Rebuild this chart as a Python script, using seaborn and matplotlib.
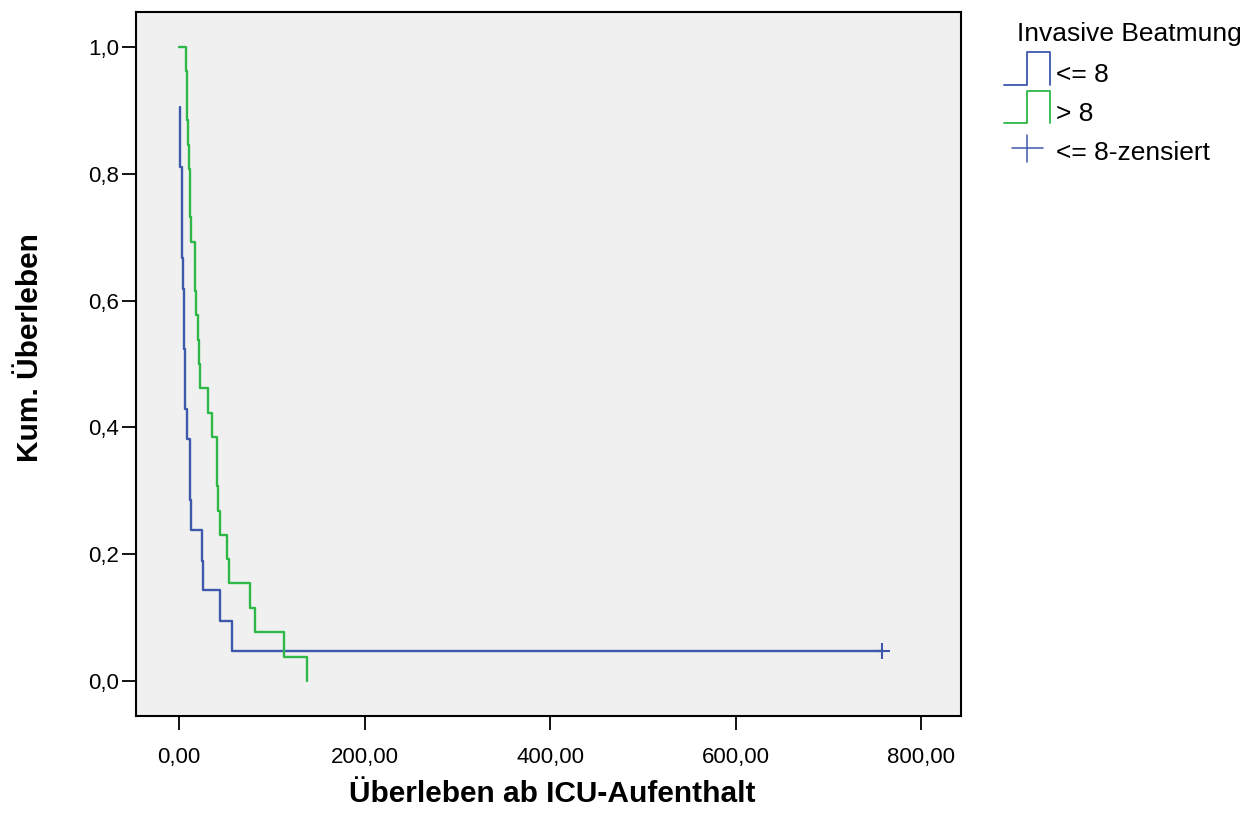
import numpy as np
import pandas as pd
import matplotlib
matplotlib.use("Agg")
import matplotlib.pyplot as plt
import seaborn as sns
from matplotlib.lines import Line2D
from matplotlib.legend_handler import HandlerBase
from matplotlib.ticker import FuncFormatter, FixedLocator

# ---------------- data ----------------
legend_title = "Invasive Beatmung"
group_labels = ["<= 8", "> 8"]
censor_label = "<= 8-zensiert"
x_label = "Überleben ab ICU-Aufenthalt"
y_label = "Kum. Überleben"

# group "<= 8": step points (time, survival after step)
low_time = [1.0, 1.1, 2.9, 4.0, 5.4, 6.5, 8.3, 11.5, 12.2, 13.3, 24.5, 26.2,
            44.5, 57.5, 758.0]
low_surv = [0.905, 0.810, 0.667, 0.619, 0.524, 0.429, 0.381, 0.333, 0.286,
            0.238, 0.190, 0.143, 0.095, 0.048, 0.048]

# group "> 8"
high_time = [0.3, 7.2, 8.3, 9.4, 10.8, 11.5, 12.9, 17.3, 18.3, 20.1, 21.9,
             23.0, 31.6, 35.2, 40.6, 41.5, 44.2, 51.4, 54.3, 76.5, 81.9,
             113.2, 137.7]
high_surv = [1.0, 0.962, 0.885, 0.846, 0.808, 0.731, 0.692, 0.615, 0.577,
             0.538, 0.500, 0.462, 0.423, 0.385, 0.308, 0.269, 0.231, 0.192,
             0.154, 0.115, 0.077, 0.038, 0.0]

# censored observations of "<= 8"
censor_time = [758.0]
censor_surv = [0.048]

x_ticks = [0, 200, 400, 600, 800]
y_ticks = [0.0, 0.2, 0.4, 0.6, 0.8, 1.0]

# ---------------- style ----------------
sns.set_theme(style="ticks")
plt.rcParams["font.family"] = ["Liberation Sans", "DejaVu Sans"]

BLUE = "#3E58AC"
GREEN = "#2EB848"

fig = plt.figure(figsize=(12.5, 8.13), dpi=100)
fig.patch.set_facecolor("white")
ax = fig.add_axes([136 / 1250, 1 - 716 / 813, 825 / 1250, 704 / 813])
ax.set_facecolor("#F0F0F0")

low_df = pd.DataFrame({"t": low_time, "s": low_surv})
high_df = pd.DataFrame({"t": high_time, "s": high_surv})

sns.lineplot(data=low_df, x="t", y="s", drawstyle="steps-post", sort=False,
             estimator=None, color=BLUE, linewidth=1.7, ax=ax)
sns.lineplot(data=high_df, x="t", y="s", drawstyle="steps-post", sort=False,
             estimator=None, color=GREEN, linewidth=1.7, ax=ax)
ax.plot(censor_time, censor_surv, linestyle="none", marker="+",
        markersize=11.5, markeredgewidth=1.5, color=BLUE)

ax.set_xlim(-46.4, 843)
ax.set_ylim(-0.055, 1.055)
ax.xaxis.set_major_locator(FixedLocator(x_ticks))
ax.yaxis.set_major_locator(FixedLocator(y_ticks))
ax.xaxis.set_major_formatter(FuncFormatter(lambda v, _: f"{v:.2f}".replace(".", ",")))
ax.yaxis.set_major_formatter(FuncFormatter(lambda v, _: f"{v:.1f}".replace(".", ",")))

for sp in ax.spines.values():
    sp.set_visible(True)
    sp.set_color("black")
    sp.set_linewidth(1.5)

ax.tick_params(axis="both", which="major", direction="out", length=10,
               width=1.3, color="black", labelcolor="black", labelsize=16,
               top=False, right=False)
ax.tick_params(axis="x", pad=12)
ax.tick_params(axis="y", pad=2)
ax.grid(False)

ax.set_xlabel(x_label, fontsize=21.5, fontweight="bold", color="black")
ax.set_ylabel(y_label, fontsize=21.5, fontweight="bold", color="black")
ax.xaxis.set_label_coords(0.505, -0.0915)
ax.yaxis.set_label_coords(-0.1115, 0.523)


# ---------------- legend ----------------
class StepHandler(HandlerBase):
    def create_artists(self, legend, orig_handle, xdescent, ydescent, width,
                       height, fontsize, trans):
        x0 = -xdescent
        x1 = x0 + width
        xm = x0 + width * 0.5
        y0 = -1.5
        y1 = 21.6
        line = Line2D([x0, xm, xm, x1, x1], [y0, y0, y1, y1, y0],
                      color=orig_handle.get_color(), linewidth=1.3,
                      transform=trans)
        return [line]


class CrossHandler(HandlerBase):
    def create_artists(self, legend, orig_handle, xdescent, ydescent, width,
                       height, fontsize, trans):
        x0 = -xdescent
        xc = x0 + width * 0.5
        h = Line2D([x0 + 5.5, x0 + 28.3], [8.0, 8.0],
                   color=orig_handle.get_color(), linewidth=1.1, transform=trans)
        v = Line2D([xc, xc], [-1.7, 17.8],
                   color=orig_handle.get_color(), linewidth=1.1, transform=trans)
        return [h, v]


h_low = Line2D([], [], color=BLUE)
h_high = Line2D([], [], color=GREEN)
h_cens = Line2D([], [], color=BLUE, marker="+", linestyle="none")

leg = ax.legend([h_low, h_high, h_cens], [group_labels[0], group_labels[1], censor_label],
                handler_map={h_low: StepHandler(), h_high: StepHandler(),
                             h_cens: CrossHandler()},
                loc="upper left", bbox_to_anchor=(1004 / 1250, 1 - 63.5 / 813),
                bbox_transform=fig.transFigure, frameon=False, fontsize=19,
                handlelength=1.74, handletextpad=0.23, labelspacing=0.55,
                borderpad=0, borderaxespad=0)
for t in leg.get_texts():
    t.set_color("black")

fig.text(1017 / 1250, 1 - 40.7 / 813, legend_title, fontsize=19,
         ha="left", va="baseline", color="black")

fig.savefig("out.png", dpi=100, facecolor="white")
